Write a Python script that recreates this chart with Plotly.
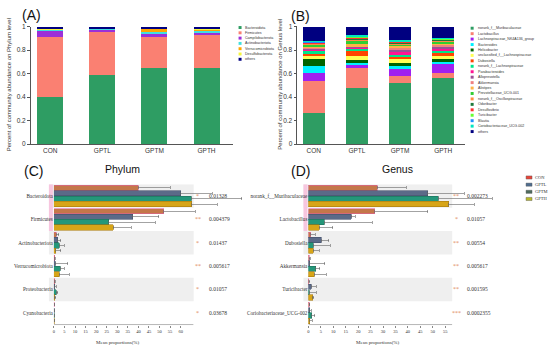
import plotly.graph_objects as go

W, H = 550, 354

groups = ["CON", "GPTL", "GPTM", "GPTH"]

# ---------------- Panel A: phylum level stacked abundance ----------------
phylum_a_names = ["Bacteroidota", "Firmicutes", "Campilobacterota", "Actinobacteriota",
                  "Verrucomicrobiota", "Desulfobacterota", "others"]
bacteroidota_a = [0.40, 0.59, 0.645, 0.65]
firmicutes_a = [0.515, 0.375, 0.265, 0.28]
campilobacterota_a = [0.055, 0.01, 0.025, 0.025]
actinobacteriota_a = [0.008, 0.01, 0.02, 0.005]
verrucomicrobiota_a = [0.004, 0.003, 0.03, 0.02]
desulfobacterota_a = [0.008, 0.002, 0.005, 0.01]
others_a = [0.01, 0.01, 0.01, 0.01]
phylum_a_values = [bacteroidota_a, firmicutes_a, campilobacterota_a, actinobacteriota_a,
                   verrucomicrobiota_a, desulfobacterota_a, others_a]
phylum_a_colors = ["#2e9d63", "#fa8072", "#9b30d9", "#40e0e0", "#ffa500", "#f5f53a", "#000080"]

# ---------------- Panel B: genus level stacked abundance ----------------
genus_b_names = ["norank_f__Muribaculaceae", "Lactobacillus", "Lachnospiraceae_NK4A136_group",
                 "Bacteroides", "Helicobacter", "unclassified_f__Lachnospiraceae", "Dubosiella",
                 "norank_f__Lachnospiraceae", "Parabacteroides", "Alloprevotella", "Akkermansia",
                 "Alistipes", "Prevotellaceae_UCG-001", "norank_f__Oscillospiraceae", "Odoribacter",
                 "Desulfovibrio", "Turicibacter", "Blautia", "Coriobacteriaceae_UCG-002", "others"]
muribaculaceae_b = [0.265, 0.474, 0.517, 0.559]
lactobacillus_b = [0.27, 0.173, 0.065, 0.042]
lachno_nk4a136_b = [0.073, 0.025, 0.056, 0.079]
bacteroides_b = [0.06, 0.03, 0.028, 0.02]
helicobacter_b = [0.055, 0.01, 0.028, 0.028]
unclass_lachno_b = [0.035, 0.035, 0.028, 0.03]
dubosiella_b = [0.01, 0.05, 0.02, 0.015]
norank_lachno_b = [0.02, 0.01, 0.02, 0.02]
parabacteroides_b = [0.02, 0.02, 0.02, 0.02]
alloprevotella_b = [0.01, 0.005, 0.02, 0.01]
akkermansia_b = [0.005, 0.005, 0.025, 0.025]
alistipes_b = [0.015, 0.015, 0.015, 0.015]
prevotellaceae_b = [0.01, 0.035, 0.01, 0.01]
oscillo_b = [0.01, 0.01, 0.01, 0.01]
odoribacter_b = [0.005, 0.005, 0.008, 0.008]
desulfovibrio_b = [0.005, 0.005, 0.005, 0.005]
turicibacter_b = [0.002, 0.012, 0.003, 0.004]
blautia_b = [0.003, 0.002, 0.002, 0.002]
corio_b = [0.003, 0.004, 0.003, 0.003]
others_b = [0.124, 0.075, 0.117, 0.095]
genus_b_values = [muribaculaceae_b, lactobacillus_b, lachno_nk4a136_b, bacteroides_b,
                  helicobacter_b, unclass_lachno_b, dubosiella_b, norank_lachno_b,
                  parabacteroides_b, alloprevotella_b, akkermansia_b, alistipes_b,
                  prevotellaceae_b, oscillo_b, odoribacter_b, desulfovibrio_b,
                  turicibacter_b, blautia_b, corio_b, others_b]
genus_b_colors = ["#2e9d63", "#fa8072", "#a020f0", "#00f0ff", "#006400", "#ffff55",
                  "#ff4500", "#00e68a", "#ff1493", "#9b4f96", "#f08080", "#ffb347",
                  "#32cd32", "#ff8c42", "#1f7a3a", "#ff3030", "#66ff33", "#1e90ff",
                  "#00e5c0", "#000080"]

# ---------------- Panel C: phylum mean proportions (%) ----------------
phylum_c_names = ["Bacteroidota", "Firmicutes", "Actinobacteriota", "Verrucomicrobiota",
                  "Proteobacteria", "Cyanobacteria"]
con_c = [40.0, 52.0, 1.0, 0.3, 0.4, 0.1]
gptl_c = [60.0, 37.3, 1.8, 0.6, 0.5, 0.1]
gptm_c = [65.0, 26.0, 2.5, 3.0, 1.0, 0.1]
gpth_c = [65.3, 28.0, 0.8, 2.5, 0.5, 0.1]
err_con_c = [15.0, 15.0, 1.3, 0.3, 0.3, 0.1]
err_gptl_c = [15.0, 12.2, 1.5, 6.0, 0.5, 0.1]
err_gptm_c = [24.0, 22.0, 2.5, 2.0, 0.8, 0.1]
err_gpth_c = [12.0, 8.7, 2.5, 4.7, 0.4, 0.1]
pstars_c = ["*", "**", "*", "**", "*", "*"]
pvalues_c = ["0.01328", "0.004379", "0.01437", "0.005617", "0.01057", "0.03678"]

# ---------------- Panel D: genus mean proportions (%) ----------------
genus_d_names = ["norank_f__Muribaculaceae", "Lactobacillus", "Dubosiella", "Akkermansia",
                 "Turicibacter", "Coriobacteriaceae_UCG-002"]
con_d = [27.6, 26.6, 0.9, 0.3, 0.2, 0.3]
gptl_d = [48.0, 17.3, 5.1, 0.5, 1.1, 0.5]
gptm_d = [52.3, 6.3, 2.0, 3.0, 0.3, 1.4]
gpth_d = [56.4, 4.4, 2.0, 2.4, 1.7, 0.5]
err_con_d = [11.8, 21.4, 1.9, 0.4, 0.3, 0.3]
err_gptl_d = [14.7, 1.6, 3.1, 6.0, 2.1, 0.6]
err_gptm_d = [21.7, 19.3, 6.8, 1.5, 2.9, 1.1]
err_gpth_d = [10.3, 5.4, 2.4, 4.8, 0.5, 1.1]
pstars_d = ["**", "*", "**", "**", "**", "***"]
pvalues_d = ["0.002273", "0.01057", "0.00554", "0.005617", "0.001595", "0.0002355"]

group_bar_colors = ["#c4774a", "#5b6a88", "#24977a", "#d7a518"]
group_line_colors = ["#e0609a", "#44506a", "#1d6f5a", "#a87c10"]
group_legend_colors = ["#e8463a", "#4f6d8f", "#4d6b5d", "#b8b82a"]


def px(x):
    return x / W


def py(y):
    return 1 - y / H


SANS = "Liberation Sans, Arial, sans-serif"
SERIF = "Liberation Serif, Times New Roman, serif"
TXT = "#333333"

fig = go.Figure()

# stacked bars A
for name, vals, col in zip(phylum_a_names, phylum_a_values, phylum_a_colors):
    fig.add_trace(go.Bar(x=groups, y=vals, name=name, marker=dict(color=col, line=dict(width=0)),
                         xaxis="x", yaxis="y", showlegend=False))
# stacked bars B
for name, vals, col in zip(genus_b_names, genus_b_values, genus_b_colors):
    fig.add_trace(go.Bar(x=groups, y=vals, name=name, marker=dict(color=col, line=dict(width=0)),
                         xaxis="x2", yaxis="y2", showlegend=False))

offsets = [-0.345, -0.115, 0.115, 0.345]
c_series = [con_c, gptl_c, gptm_c, gpth_c]
c_errs = [err_con_c, err_gptl_c, err_gptm_c, err_gpth_c]
d_series = [con_d, gptl_d, gptm_d, gpth_d]
d_errs = [err_con_d, err_gptl_d, err_gptm_d, err_gpth_d]

for i, g in enumerate(groups):
    for series, errs, xa, ya in [(c_series, c_errs, "x3", "y3"), (d_series, d_errs, "x4", "y4")]:
        vals = series[i]
        fig.add_trace(go.Bar(
            x=vals, y=[r + offsets[i] for r in range(len(vals))], orientation="h",
            width=0.225, name=g, xaxis=xa, yaxis=ya, showlegend=False,
            marker=dict(color=group_bar_colors[i], line=dict(color=group_line_colors[i], width=0.6)),
            error_x=dict(type="data", symmetric=False, array=errs[i], arrayminus=[0] * len(vals),
                         color="#666666", thickness=0.6, width=1.5),
        ))

shapes = []
annotations = []

# stripes for C and D
for r in range(6):
    if r % 2 == 0:
        shapes.append(dict(type="rect", xref="paper", yref="y3", x0=px(48), x1=px(193),
                           y0=r - 0.5, y1=r + 0.5, fillcolor="#efefef", line=dict(width=0),
                           layer="below"))
        shapes.append(dict(type="rect", xref="paper", yref="y4", x0=px(303), x1=px(452),
                           y0=r - 0.5, y1=r + 0.5, fillcolor="#efefef", line=dict(width=0),
                           layer="below"))
# pink highlight edges near top rows
for yref, x0 in [("y3", 48), ("y4", 303)]:
    shapes.append(dict(type="rect", xref="paper", yref=yref, x0=px(x0), x1=px(x0 + 4),
                       y0=-0.5, y1=1.5, fillcolor="#f7c6df", line=dict(width=0), layer="below"))

# axis lines for C and D (only over the labelled range)
shapes.append(dict(type="line", xref="x3", yref="y3 domain", x0=0, x1=66, y0=0, y1=0,
                   line=dict(color="#888888", width=0.6)))
shapes.append(dict(type="line", xref="x4", yref="y4 domain", x0=0, x1=57.8, y0=0, y1=0,
                   line=dict(color="#888888", width=0.6)))

# p-values
for r in range(6):
    annotations.append(dict(xref="paper", yref="y3", x=px(197), y=r, text=pstars_c[r],
                            showarrow=False, xanchor="center", yanchor="middle",
                            font=dict(family=SERIF, size=6, color="#e08a5a")))
    annotations.append(dict(xref="paper", yref="y3", x=px(206), y=r, text=pvalues_c[r],
                            showarrow=False, xanchor="left", yanchor="middle",
                            font=dict(family=SERIF, size=5.5, color=TXT)))
    annotations.append(dict(xref="paper", yref="y4", x=px(456), y=r, text=pstars_d[r],
                            showarrow=False, xanchor="center", yanchor="middle",
                            font=dict(family=SERIF, size=6, color="#e08a5a")))
    annotations.append(dict(xref="paper", yref="y4", x=px(465), y=r, text=pvalues_d[r],
                            showarrow=False, xanchor="left", yanchor="middle",
                            font=dict(family=SERIF, size=5.5, color=TXT)))

# legend A
for k, (name, col) in enumerate(zip(phylum_a_names, phylum_a_colors)):
    yy = 24 + k * 5.4
    shapes.append(dict(type="rect", xref="paper", yref="paper", x0=px(238), x1=px(241),
                       y0=py(yy + 1.5), y1=py(yy - 1.5), fillcolor=col, line=dict(width=0)))
    annotations.append(dict(xref="paper", yref="paper", x=px(242.5), y=py(yy), text=name,
                            showarrow=False, xanchor="left", yanchor="middle",
                            font=dict(family=SANS, size=3.6, color=TXT)))
# legend B
for k, (name, col) in enumerate(zip(genus_b_names, genus_b_colors)):
    yy = 24.7 + k * 5.55
    shapes.append(dict(type="rect", xref="paper", yref="paper", x0=px(470.5), x1=px(473.5),
                       y0=py(yy + 1.5), y1=py(yy - 1.5), fillcolor=col, line=dict(width=0)))
    annotations.append(dict(xref="paper", yref="paper", x=px(475.5), y=py(yy), text=name,
                            showarrow=False, xanchor="left", yanchor="middle",
                            font=dict(family=SANS, size=3.6, color=TXT)))
# legend C/D
for k, (g, col) in enumerate(zip(groups, group_legend_colors)):
    yy = 177 + k * 7.3
    shapes.append(dict(type="rect", xref="paper", yref="paper", x0=px(526), x1=px(532),
                       y0=py(yy + 1.6), y1=py(yy - 1.6), fillcolor=col,
                       line=dict(color="#555555", width=0.4)))
    annotations.append(dict(xref="paper", yref="paper", x=px(532.5), y=py(yy), text=g,
                            showarrow=False, xanchor="left", yanchor="middle",
                            font=dict(family=SERIF, size=4.5, color=TXT)))

# panel labels and titles
for txt, x, y in [("(A)", 19, 11), ("(B)", 289, 12), ("(C)", 21, 170), ("(D)", 289, 170)]:
    annotations.append(dict(xref="paper", yref="paper", x=px(x), y=py(y), text=txt,
                            showarrow=False, xanchor="left", yanchor="middle",
                            font=dict(family=SANS, size=14, color="#111111")))
for txt, x in [("Phylum", 122), ("Genus", 397)]:
    annotations.append(dict(xref="paper", yref="paper", x=px(x), y=py(168), text=txt,
                            showarrow=False, xanchor="center", yanchor="middle",
                            font=dict(family=SANS, size=10.5, color="#111111")))
for x in [117, 378]:
    annotations.append(dict(xref="paper", yref="paper", x=px(x), y=py(345),
                            text="Mean proportions(%)", showarrow=False, xanchor="center",
                            yanchor="middle", font=dict(family=SERIF, size=5, color=TXT)))
for txt, x in [("Percent of community abundance on Phylum level", 8),
               ("Percent of community abundance on Genus level", 280)]:
    annotations.append(dict(xref="paper", yref="paper", x=px(x), y=py(82), text=txt,
                            showarrow=False, textangle=-90, xanchor="center", yanchor="middle",
                            font=dict(family=SANS, size=6, color=TXT)))

ytick_vals = [0, 0.2, 0.4, 0.6, 0.8, 1]
ytick_text = ["0", "0.2", "0.4", "0.6", "0.8", "1"]

stack_x = dict(showline=True, linecolor="#555555", linewidth=0.8, ticks="", showgrid=False,
               tickfont=dict(family=SANS, size=6.5, color=TXT))
stack_y = dict(showline=True, linecolor="#555555", linewidth=0.8, ticks="outside", ticklen=3,
               tickwidth=0.8, tickcolor="#555555", range=[0, 1.0], tickvals=ytick_vals,
               ticktext=ytick_text, showgrid=False, zeroline=False,
               tickfont=dict(family=SANS, size=6.5, color=TXT))

mean_x_common = dict(showline=False, ticks="outside", ticklen=2, tickwidth=0.5,
                     tickcolor="#888888", showgrid=False, zeroline=False,
                     tickfont=dict(family=SERIF, size=4.5, color=TXT))
mean_y_common = dict(showline=False, ticks="", showgrid=False, zeroline=False,
                     range=[5.5, -0.5], tickvals=list(range(6)),
                     tickfont=dict(family=SERIF, size=5.2, color=TXT))

fig.update_layout(
    width=W, height=H, margin=dict(l=0, r=0, t=0, b=0),
    paper_bgcolor="white", plot_bgcolor="rgba(0,0,0,0)",
    barmode="stack", bargap=0.5, showlegend=False,
    xaxis=dict(domain=[px(30), px(232)], range=[-0.37, 3.5], anchor="y", **stack_x),
    yaxis=dict(domain=[py(143), py(23)], anchor="x", **stack_y),
    xaxis2=dict(domain=[px(297), px(465)], range=[-0.38, 3.51], anchor="y2", **stack_x),
    yaxis2=dict(domain=[py(143), py(23)], anchor="x2", **stack_y),
    xaxis3=dict(domain=[px(53), px(245)], range=[0, 192 / 2.117], anchor="y3",
                tickvals=list(range(0, 61, 5)), **mean_x_common),
    yaxis3=dict(domain=[py(327), py(184)], anchor="x3", ticktext=phylum_c_names, **mean_y_common),
    xaxis4=dict(domain=[px(308), px(500)], range=[0, 192 / 2.49], anchor="y4",
                tickvals=list(range(0, 56, 5)), **mean_x_common),
    yaxis4=dict(domain=[py(327), py(184)], anchor="x4", ticktext=genus_d_names, **mean_y_common),
    shapes=shapes, annotations=annotations,
)

fig.write_html("out.html", config={"displayModeBar": False},
               post_script="document.body.style.margin='0';document.body.style.overflow='hidden';")
